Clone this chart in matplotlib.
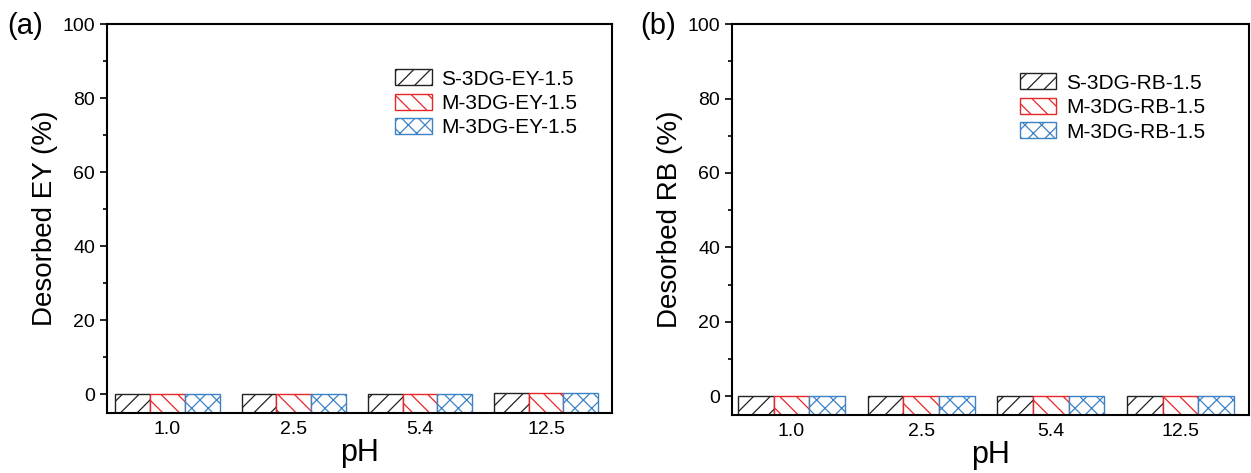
import matplotlib
matplotlib.use("Agg")
import matplotlib.pyplot as plt
import numpy as np

plt.rcParams['font.family'] = ['Liberation Sans', 'DejaVu Sans']
plt.rcParams['hatch.linewidth'] = 0.9

ph_labels = ["1.0", "2.5", "5.4", "12.5"]
series_a = ["S-3DG-EY-1.5", "M-3DG-EY-1.5", "M-3DG-EY-1.5"]
series_b = ["S-3DG-RB-1.5", "M-3DG-RB-1.5", "M-3DG-RB-1.5"]
ey_s = [0.1, 0.1, 0.1, 0.3]
ey_m = [0.1, 0.1, 0.1, 0.4]
ey_m2 = [0.1, 0.1, 0.2, 0.4]
rb_s = [0.0, 0.0, 0.0, 0.0]
rb_m = [0.0, 0.0, 0.0, 0.0]
rb_m2 = [0.0, 0.0, 0.0, 0.0]

colors = ['#222222', '#e8262a', '#3d82c4']
hatches = ['//', '\\\\', 'xx']

fig = plt.figure(figsize=(12.51, 4.73), dpi=100)
ax1 = fig.add_axes([0.0855, 0.127, 0.4035, 0.822])
ax2 = fig.add_axes([0.585, 0.123, 0.4135, 0.826])

def draw(ax, data, names, ylabel, ylim, xlim, leg_anchor, tag, tagx):
    x = np.arange(len(ph_labels))
    w = 0.275
    ymin = ylim[0]
    for i, (vals, name) in enumerate(zip(data, names)):
        vals = np.array(vals)
        ax.bar(x + (i - 1) * w, vals - ymin, width=w, bottom=ymin,
               facecolor='white', edgecolor=colors[i], hatch=hatches[i],
               linewidth=1.0, label=name)
    ax.set_ylim(*ylim)
    ax.set_xlim(*xlim)
    ax.set_xticks(x)
    ax.set_xticklabels(ph_labels, fontsize=14)
    ax.tick_params(axis='x', length=0, pad=6)
    ax.set_yticks([0, 20, 40, 60, 80, 100])
    ax.set_yticks([10, 30, 50, 70, 90], minor=True)
    ax.tick_params(axis='y', which='major', direction='out', length=5, width=1.2, labelsize=14)
    ax.tick_params(axis='y', which='minor', direction='out', length=3, width=1.2)
    for s in ax.spines.values():
        s.set_linewidth(1.5)
    ax.set_xlabel('pH', fontsize=22, labelpad=0)
    ax.set_ylabel(ylabel, fontsize=20, labelpad=3)
    ax.legend(loc='upper left', bbox_to_anchor=leg_anchor, frameon=False,
              fontsize=15, handlelength=1.75, handleheight=0.8,
              labelspacing=0.25, handletextpad=0.45, borderaxespad=0)
    fig.text(tagx, 0.945, tag, fontsize=21, ha='left', va='center')

draw(ax1, [ey_s, ey_m, ey_m2], series_a, 'Desorbed EY (%)', (-5, 100), (-0.48, 3.52),
     (0.555, 0.905), '(a)', 0.006)
draw(ax2, [rb_s, rb_m, rb_m2], series_b, 'Desorbed RB (%)', (-5, 100), (-0.46, 3.53),
     (0.541, 0.895), '(b)', 0.512)

fig.savefig('out.png', dpi=100)
